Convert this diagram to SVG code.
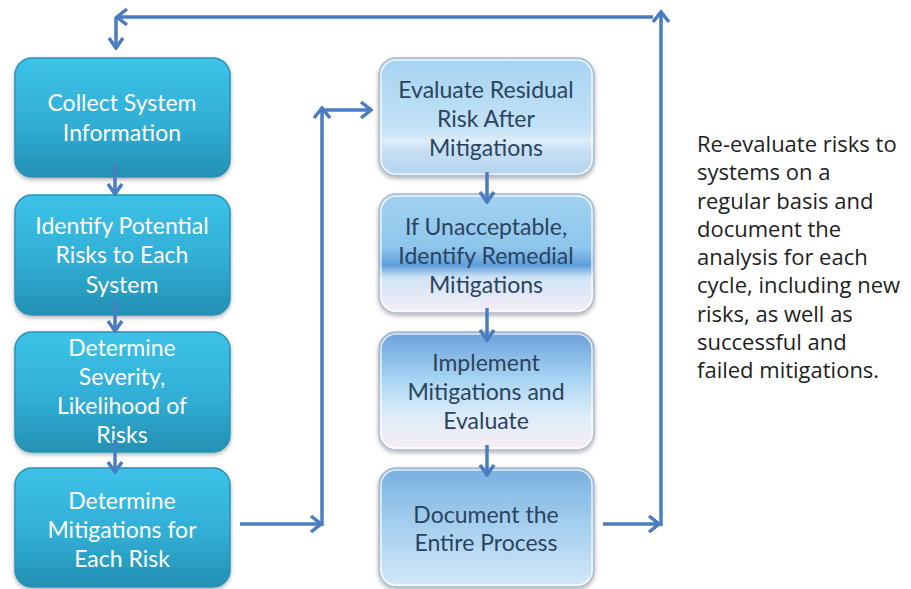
<svg xmlns="http://www.w3.org/2000/svg" width="911" height="589" viewBox="0 0 911 589">
  <defs>
    <style>
      .lbl { font-family: Lato, "Open Sans", "Liberation Sans", sans-serif; font-size: 23px; text-anchor: middle; }
      .teal .lbl { fill: #ffffff; }
      .pale .lbl { fill: #2a4460; }
      .teal rect { fill: url(#gTeal); stroke: #2a92b6; stroke-width: 1.5; filter: url(#shadow); }
      .pale rect.body { stroke: #aebccb; stroke-width: 1.5; filter: url(#shadow); }
      .pale rect.rim { fill: none; stroke: #ffffff; stroke-width: 1.5; opacity: 0.8; }
      .conn line { fill: none; stroke: #4a7cc2; stroke-width: 3.5; }
      .note { font-family: "Open Sans", Lato, "Liberation Sans", sans-serif; font-size: 22px; fill: #1e1e1e; }
    </style>
    <linearGradient id="gTeal" x1="0" y1="0" x2="0" y2="1">
      <stop offset="0" stop-color="#3dc2e8"/>
      <stop offset="0.55" stop-color="#31aed5"/>
      <stop offset="1" stop-color="#2490b3"/>
    </linearGradient>
    <linearGradient id="gA" x1="0" y1="0" x2="0" y2="1">
      <stop offset="0" stop-color="#a6d3f1"/>
      <stop offset="0.6" stop-color="#c4e2f6"/>
      <stop offset="0.7" stop-color="#dcedf9"/>
      <stop offset="0.78" stop-color="#c8e0f4"/>
      <stop offset="1" stop-color="#b2d3ef"/>
    </linearGradient>
    <linearGradient id="gB" x1="0" y1="0" x2="0" y2="1">
      <stop offset="0" stop-color="#a2d2f1"/>
      <stop offset="0.45" stop-color="#8ec6ec"/>
      <stop offset="0.6" stop-color="#5f9edb"/>
      <stop offset="0.7" stop-color="#cfe4f6"/>
      <stop offset="1" stop-color="#f6eef6"/>
    </linearGradient>
    <linearGradient id="gC" x1="0" y1="0" x2="0" y2="1">
      <stop offset="0" stop-color="#6aa0da"/>
      <stop offset="0.4" stop-color="#a8d4f2"/>
      <stop offset="0.7" stop-color="#dcecf8"/>
      <stop offset="1" stop-color="#f8eef4"/>
    </linearGradient>
    <linearGradient id="gD" x1="0" y1="0" x2="0" y2="1">
      <stop offset="0" stop-color="#78b0e0"/>
      <stop offset="0.5" stop-color="#a6d0ef"/>
      <stop offset="1" stop-color="#d4e8f7"/>
    </linearGradient>
    <filter id="shadow" x="-10%" y="-10%" width="120%" height="125%">
      <feDropShadow dx="0" dy="2" stdDeviation="2" flood-color="#000" flood-opacity="0.3"/>
    </filter>
    <marker id="chev" viewBox="0 0 14 20" markerWidth="14" markerHeight="20" refX="12" refY="10" orient="auto" markerUnits="userSpaceOnUse">
      <path d="M2,2 L12,10 L2,18" fill="none" stroke="#4a7cc2" stroke-width="3.5" stroke-linejoin="miter"/>
    </marker>
    <marker id="chevS" viewBox="0 0 14 18" markerWidth="14" markerHeight="18" refX="12" refY="9" orient="auto" markerUnits="userSpaceOnUse">
      <path d="M2,2 L12,9 L2,16" fill="none" stroke="#4a7cc2" stroke-width="3.5" stroke-linejoin="miter"/>
    </marker>
  </defs>

  <rect width="911" height="589" fill="#ffffff"/>

  <!-- left column: teal steps -->
  <g id="collect" class="teal">
    <rect x="15" y="58" width="215" height="119" rx="17"/>
    <text class="lbl" x="122" y="111">Collect System</text>
    <text class="lbl" x="122" y="141">Information</text>
  </g>
  <g id="identify" class="teal">
    <rect x="15" y="195" width="215" height="120" rx="17"/>
    <text class="lbl" x="122" y="234">Identify Potential</text>
    <text class="lbl" x="122" y="263">Risks to Each</text>
    <text class="lbl" x="122" y="293">System</text>
  </g>
  <g id="severity" class="teal">
    <rect x="15" y="332" width="215" height="120" rx="17"/>
    <text class="lbl" x="122" y="356">Determine</text>
    <text class="lbl" x="122" y="385">Severity,</text>
    <text class="lbl" x="122" y="414">Likelihood of</text>
    <text class="lbl" x="122" y="443">Risks</text>
  </g>
  <g id="mitigations" class="teal">
    <rect x="15" y="468" width="215" height="119" rx="17"/>
    <text class="lbl" x="122" y="509">Determine</text>
    <text class="lbl" x="122" y="538">Mitigations for</text>
    <text class="lbl" x="122" y="567">Each Risk</text>
  </g>

  <!-- right column: pale blue steps -->
  <g id="residual" class="pale">
    <rect class="body" x="379" y="58" width="215" height="118" rx="17" fill="url(#gA)"/>
    <rect class="rim" x="381" y="60" width="211" height="114" rx="15"/>
    <text class="lbl" x="486" y="98">Evaluate Residual</text>
    <text class="lbl" x="486" y="127">Risk After</text>
    <text class="lbl" x="486" y="156">Mitigations</text>
  </g>
  <g id="remedial" class="pale">
    <rect class="body" x="379" y="194" width="215" height="119" rx="17" fill="url(#gB)"/>
    <rect class="rim" x="381" y="196" width="211" height="115" rx="15"/>
    <text class="lbl" x="486" y="235">If Unacceptable,</text>
    <text class="lbl" x="486" y="264">Identify Remedial</text>
    <text class="lbl" x="486" y="293">Mitigations</text>
  </g>
  <g id="implement" class="pale">
    <rect class="body" x="379" y="332" width="215" height="118" rx="17" fill="url(#gC)"/>
    <rect class="rim" x="381" y="334" width="211" height="114" rx="15"/>
    <text class="lbl" x="486" y="371">Implement</text>
    <text class="lbl" x="486" y="400">Mitigations and</text>
    <text class="lbl" x="486" y="429">Evaluate</text>
  </g>
  <g id="document" class="pale">
    <rect class="body" x="379" y="468" width="215" height="119" rx="17" fill="url(#gD)"/>
    <rect class="rim" x="381" y="470" width="211" height="115" rx="15"/>
    <text class="lbl" x="486" y="523">Document the</text>
    <text class="lbl" x="486" y="551">Entire Process</text>
  </g>

  <!-- connectors -->
  <g id="connectors" class="conn">
    <!-- left column steps -->
    <line x1="115" y1="163" x2="115" y2="194" marker-end="url(#chevS)"/>
    <line x1="115" y1="300" x2="115" y2="331" marker-end="url(#chevS)"/>
    <line x1="115" y1="440" x2="115" y2="472" marker-end="url(#chevS)"/>
    <!-- right column steps -->
    <line x1="487" y1="172" x2="487" y2="202" marker-end="url(#chevS)"/>
    <line x1="487" y1="308" x2="487" y2="340" marker-end="url(#chevS)"/>
    <line x1="487" y1="445" x2="487" y2="475" marker-end="url(#chevS)"/>
    <!-- hand-over from left column to right column -->
    <line x1="240" y1="524" x2="321" y2="524" marker-end="url(#chev)"/>
    <line x1="322" y1="526" x2="322" y2="108" marker-end="url(#chev)"/>
    <line x1="320" y1="110" x2="371" y2="110" marker-end="url(#chev)"/>
    <!-- review loop back to the start -->
    <line x1="603" y1="524" x2="659" y2="524" marker-end="url(#chev)"/>
    <line x1="661" y1="526" x2="661" y2="12" marker-end="url(#chev)"/>
    <line x1="653" y1="17" x2="117" y2="17" marker-end="url(#chev)"/>
    <line x1="116" y1="17" x2="116" y2="48" marker-end="url(#chevS)"/>
  </g>

  <!-- side note -->
  <g id="note">
    <text class="note" x="697" y="152">Re-evaluate risks to</text>
    <text class="note" x="697" y="180">systems on a</text>
    <text class="note" x="697" y="209">regular basis and</text>
    <text class="note" x="697" y="237">document the</text>
    <text class="note" x="697" y="265">analysis for each</text>
    <text class="note" x="697" y="293">cycle, including new</text>
    <text class="note" x="697" y="322">risks, as well as</text>
    <text class="note" x="697" y="350">successful and</text>
    <text class="note" x="697" y="378">failed mitigations.</text>
  </g>
</svg>
